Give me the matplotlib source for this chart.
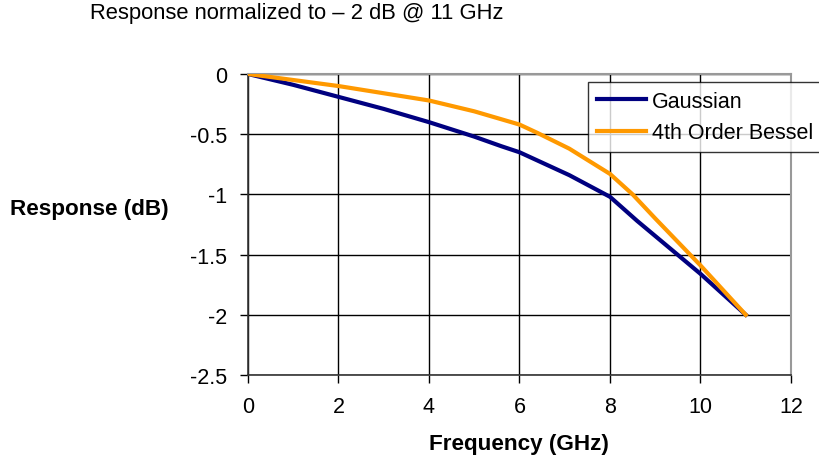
import matplotlib
matplotlib.use("Agg")
import matplotlib.pyplot as plt

plt.rcParams['font.family'] = ['Liberation Sans', 'DejaVu Sans']

# frequency points (GHz) and responses (dB)
gauss_f = [0, 1, 2, 3, 4, 5, 5.6, 6, 7.1, 8, 8.6, 10, 11]
gauss_db = [0, -0.09, -0.19, -0.29, -0.40, -0.52, -0.60, -0.65, -0.84, -1.02, -1.22, -1.66, -2.0]

bessel_f = [0, 1, 2, 3, 4, 5, 6, 6.4, 7.1, 8, 8.5, 9, 10, 11]
bessel_db = [0, -0.05, -0.10, -0.16, -0.22, -0.31, -0.42, -0.49, -0.62, -0.83, -1.0, -1.2, -1.59, -2.0]

x_ticks = [0, 2, 4, 6, 8, 10, 12]
y_ticks = [0, -0.5, -1, -1.5, -2, -2.5]
y_tick_labels = ['0', '-0.5', '-1', '-1.5', '-2', '-2.5']

W, H = 819, 464
fig = plt.figure(figsize=(W / 100, H / 100), dpi=100)
ax = fig.add_axes([248 / W, 1 - 376 / H, (791 - 248) / W, (376 - 75) / H])

ax.plot(gauss_f, gauss_db, color='#000080', lw=3, label='Gaussian', zorder=3)
ax.plot(bessel_f, bessel_db, color='#FF9900', lw=3, label='4th Order Bessel', zorder=3)

ax.set_xlim(0, 12)
ax.set_ylim(-2.5, 0)
ax.set_xticks(x_ticks)
ax.set_yticks(y_ticks)
ax.set_yticklabels(y_tick_labels)
ax.grid(True, color='black', lw=1)
ax.tick_params(direction='out', length=6, width=1, labelsize=15.5, pad=9, colors='black')

for side in ['top', 'right']:
    ax.spines[side].set_color('#999999')
    ax.spines[side].set_linewidth(1.5)
for side in ['left', 'bottom']:
    ax.spines[side].set_color('#333333')
    ax.spines[side].set_linewidth(1.2)

fig.text(90 / W, 1 - 14 / H, 'Response normalized to \u2013 2 dB @ 11 GHz',
         fontsize=15.8, va='center', ha='left')
fig.text(10 / W, 1 - 210 / H, 'Response (dB)', fontsize=16.2, fontweight='bold',
         va='center', ha='left')
fig.text(519 / W, 1 - 445 / H, 'Frequency (GHz)', fontsize=16.2, fontweight='bold',
         va='center', ha='center')

leg = fig.legend(loc='upper left', bbox_to_anchor=(588 / W, 1 - 83 / H),
                 fontsize=15.5, frameon=True, fancybox=False, handlelength=2.3,
                 handletextpad=0.28, borderpad=0.4, labelspacing=0.5,
                 borderaxespad=0)
leg.get_frame().set_edgecolor('black')
leg.get_frame().set_linewidth(1)

fig.savefig('out.png', dpi=100)
